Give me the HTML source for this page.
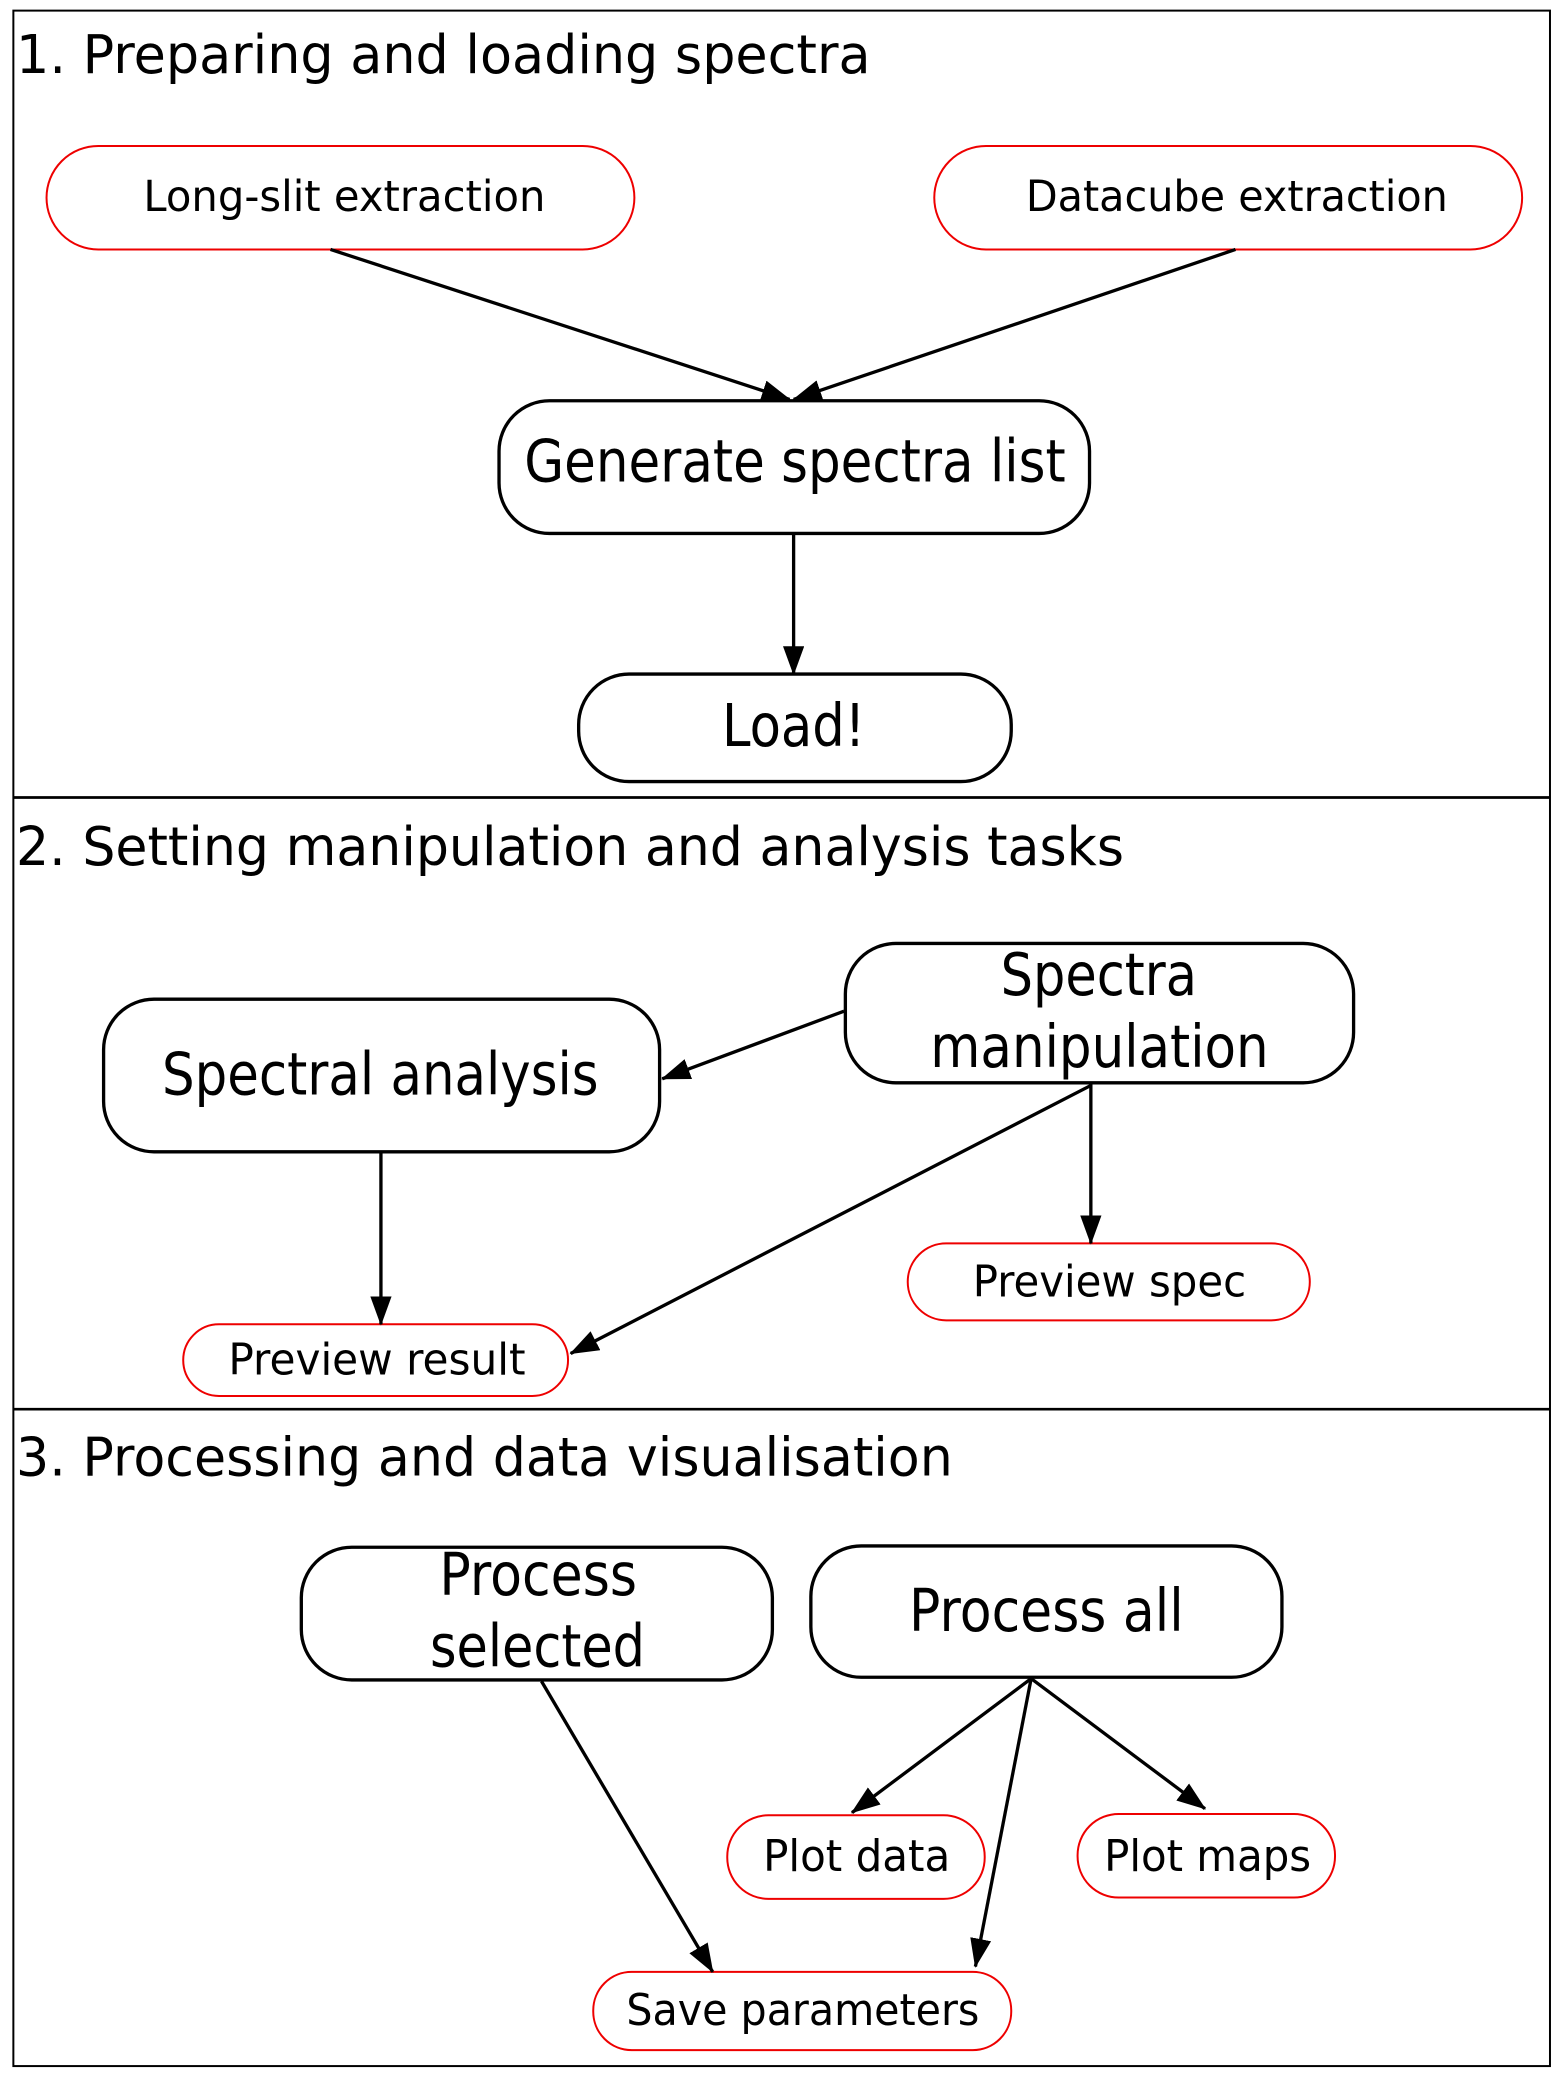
<!DOCTYPE html>
<html><head><meta charset="utf-8"><style>html,body{margin:0;padding:0;background:#fff}svg{display:block}</style></head>
<body>
<svg width="1566" height="2082" viewBox="0 0 1180 1569" xmlns="http://www.w3.org/2000/svg" font-family="'DejaVu Sans','Liberation Sans',sans-serif">
<defs><marker id="a" markerWidth="22" markerHeight="18" refX="21" refY="8" orient="auto" markerUnits="userSpaceOnUse"><path d="M0,0 L22,8 L0,16 z" fill="#000"/></marker></defs>
<rect x="10" y="8" width="1158" height="1549" fill="none" stroke="#000" stroke-width="1.5"/>
<line x1="10" y1="601" x2="1168" y2="601" stroke="#000" stroke-width="2"/>
<line x1="10" y1="1062" x2="1168" y2="1062" stroke="#000" stroke-width="2"/>
<g font-size="40" fill="#000" lengthAdjust="spacingAndGlyphs">
<text x="12" y="55" textLength="644" lengthAdjust="spacingAndGlyphs">1. Preparing and loading spectra</text>
<text x="12" y="652" textLength="835" lengthAdjust="spacingAndGlyphs">2. Setting manipulation and analysis tasks</text>
<text x="12" y="1112" textLength="706" lengthAdjust="spacingAndGlyphs">3. Processing and data visualisation</text>
</g>
<g fill="none" stroke="#e00" stroke-width="1.5">
<rect x="35" y="110" width="443" height="78" rx="39"/>
<rect x="704" y="110" width="443" height="78" rx="39"/>
<rect x="684" y="937" width="303" height="58" rx="29"/>
<rect x="138" y="998" width="290" height="54" rx="27"/>
<rect x="548" y="1368" width="194" height="63" rx="31"/>
<rect x="812" y="1367" width="194" height="63" rx="31"/>
<rect x="447" y="1486" width="315" height="59" rx="29"/>
</g>
<g fill="none" stroke="#000" stroke-width="2.5">
<rect x="376" y="302" width="445" height="100" rx="38"/>
<rect x="436" y="508" width="326" height="81" rx="38"/>
<rect x="78" y="753" width="419" height="115" rx="38"/>
<rect x="637" y="711" width="383" height="105" rx="38"/>
<rect x="227" y="1166" width="355" height="100" rx="38"/>
<rect x="611" y="1165" width="355" height="99" rx="38"/>
</g>
<g stroke="#000" stroke-width="2.5" marker-end="url(#a)">
<line x1="249" y1="188" x2="595" y2="301"/>
<line x1="931" y1="188" x2="598" y2="301"/>
<line x1="598" y1="402" x2="598" y2="508"/>
<line x1="636" y1="762" x2="499" y2="813"/>
<line x1="287" y1="868" x2="287" y2="998"/>
<line x1="822" y1="816" x2="822" y2="937"/>
<line x1="822" y1="818" x2="430" y2="1020"/>
<line x1="408" y1="1267" x2="537" y2="1486"/>
<line x1="777" y1="1265" x2="642" y2="1366"/>
<line x1="777" y1="1265" x2="908" y2="1363"/>
<line x1="777" y1="1265" x2="735" y2="1482"/>
</g>
<g fill="#000">
<text x="108" y="159" font-size="32" textLength="303" lengthAdjust="spacingAndGlyphs">Long-slit extraction</text>
<text x="773" y="159" font-size="32" textLength="318" lengthAdjust="spacingAndGlyphs">Datacube extraction</text>
<text x="395" y="363" font-size="44" textLength="408" lengthAdjust="spacingAndGlyphs">Generate spectra list</text>
<text x="544" y="562" font-size="44" textLength="108" lengthAdjust="spacingAndGlyphs">Load!</text>
<text x="122" y="825" font-size="44" textLength="329" lengthAdjust="spacingAndGlyphs">Spectral analysis</text>
<text x="754" y="750" font-size="44" textLength="148" lengthAdjust="spacingAndGlyphs">Spectra</text>
<text x="701" y="804" font-size="44" textLength="255" lengthAdjust="spacingAndGlyphs">manipulation</text>
<text x="733" y="977" font-size="33" textLength="206" lengthAdjust="spacingAndGlyphs">Preview spec</text>
<text x="172" y="1036" font-size="33" textLength="224" lengthAdjust="spacingAndGlyphs">Preview result</text>
<text x="331" y="1202" font-size="44" textLength="149" lengthAdjust="spacingAndGlyphs">Process</text>
<text x="324" y="1256" font-size="44" textLength="162" lengthAdjust="spacingAndGlyphs">selected</text>
<text x="685" y="1229" font-size="44" textLength="207" lengthAdjust="spacingAndGlyphs">Process all</text>
<text x="575" y="1410" font-size="33" textLength="141" lengthAdjust="spacingAndGlyphs">Plot data</text>
<text x="832" y="1410" font-size="33" textLength="156" lengthAdjust="spacingAndGlyphs">Plot maps</text>
<text x="472" y="1526" font-size="33" textLength="266" lengthAdjust="spacingAndGlyphs">Save parameters</text>
</g>
</svg>
</body></html>
